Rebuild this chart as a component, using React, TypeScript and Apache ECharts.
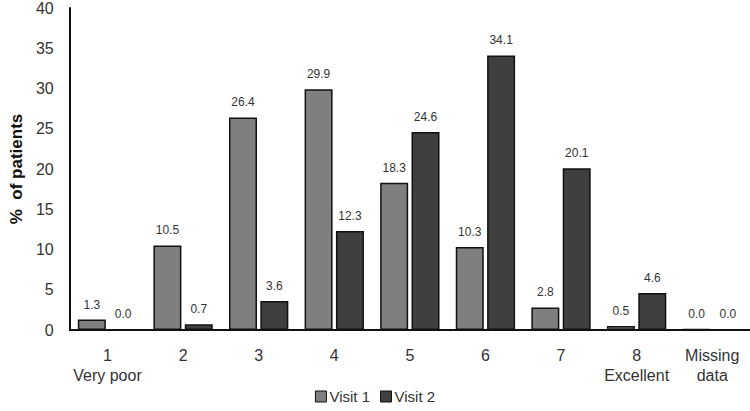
import React, { useEffect, useRef } from "react";
import * as echarts from "echarts";

const categories = ["1\nVery poor", "2", "3", "4", "5", "6", "7", "8\nExcellent", "Missing\ndata"];
const visit1 = [1.3, 10.5, 26.4, 29.9, 18.3, 10.3, 2.8, 0.5, 0.0];
const visit2 = [0.0, 0.7, 3.6, 12.3, 24.6, 34.1, 20.1, 4.6, 0.0];
const yTicks = { min: 0, max: 40, interval: 5 };

const FONT = "Liberation Sans";

export default function App() {
  const ref = useRef<HTMLDivElement>(null);
  useEffect(() => {
    const chart = echarts.init(ref.current!, null, { renderer: "svg" });
    const label = {
      show: true,
      position: "top" as const,
      distance: 9,
      fontSize: 12,
      color: "#333333",
      textBorderWidth: 0,
      fontFamily: FONT,
      formatter: (p: any) => Number(p.value).toFixed(1),
    };
    chart.setOption({
      animation: false,
      backgroundColor: "#fff",
      textStyle: { fontFamily: FONT },
      grid: { left: 66, right: -6, top: 7, bottom: 81, containLabel: false },
      legend: {
        bottom: 2,
        left: "center",
        icon: "rect",
        itemWidth: 11,
        itemHeight: 11,
        itemGap: 10,
        itemStyle: { borderColor: "#111", borderWidth: 1 },
        textStyle: { fontSize: 15, color: "#333", fontFamily: FONT, padding: [0, 0, 0, -2] },
        data: ["Visit 1", "Visit 2"],
      },
      xAxis: {
        type: "category",
        data: categories,
        axisLine: { lineStyle: { color: "#111", width: 2 } },
        axisTick: { show: false },
        axisLabel: { fontSize: 16, color: "#333", margin: 15, lineHeight: 20, interval: 0, fontFamily: FONT },
      },
      yAxis: {
        type: "value",
        min: yTicks.min,
        max: yTicks.max,
        interval: yTicks.interval,
        name: "%  of patients",
        nameLocation: "middle",
        nameGap: 41,
        nameTextStyle: { fontSize: 17, fontWeight: "bold", color: "#111", fontFamily: FONT },
        axisLine: { show: true, lineStyle: { color: "#111", width: 2 } },
        axisTick: { show: false },
        splitLine: { show: false },
        axisLabel: { fontSize: 16, color: "#333", margin: 16, fontFamily: FONT },
      },
      series: [
        {
          name: "Visit 1",
          type: "bar",
          data: visit1,
          barWidth: 28,
          barGap: "12%",
          barMinHeight: 1,
          itemStyle: { color: "#7f7f7f", borderColor: "#111", borderWidth: 1.5 },
          label,
        },
        {
          name: "Visit 2",
          type: "bar",
          data: visit2,
          barWidth: 28,
          itemStyle: { color: "#3f3f3f", borderColor: "#111", borderWidth: 1.5 },
          label,
        },
      ],
    });
    return () => chart.dispose();
  }, []);
  return <div ref={ref} style={{ position: "fixed", left: 0, top: 0, width: 750, height: 411 }} />;
}
